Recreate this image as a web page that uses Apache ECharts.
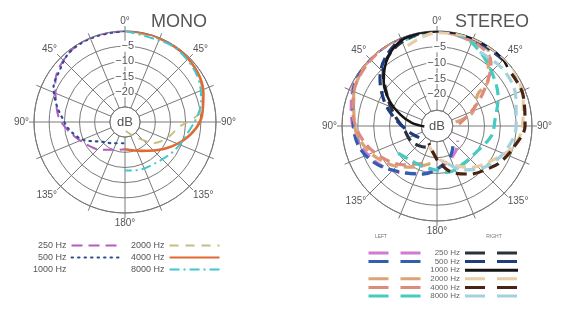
<!DOCTYPE html>
<html>
<head>
<meta charset="utf-8">
<script src="https://cdn.jsdelivr.net/npm/echarts@6/dist/echarts.min.js"></script>
<style>
html,body{margin:0;padding:0;background:#fff;}
#c{width:570px;height:317px;}
</style>
</head>
<body>
<div id="c"></div>
<script>
// ---------- MONO data (angle in degrees clockwise from front, level in dB) ----------
const monoAng250  = [0, 340, 322, 300, 285, 272, 255, 235, 222, 195, 180];
const monoDb250   = [0, 0, -0.6, -3.5, -6.5, -8.5, -12.5, -16, -17.7, -20.5, -21];
const monoAng500  = [0, 340, 322, 306, 296, 285, 275, 262, 247, 232, 209, 180];
const monoDb500   = [0, -0.2, -0.6, -2.8, -3.8, -6.5, -9, -11.5, -15, -19.5, -22, -23];
const monoAng1000 = [];
const monoDb1000  = [];
const monoAng2000 = [0, 30, 60, 80, 88, 95, 110, 125, 145, 175];
const monoDb2000  = [0, -0.3, -1.5, -4, -8, -12, -15, -18, -24, -27];
const monoAng4000 = [0, 20, 45, 70, 85, 95, 108, 125, 150, 180];
const monoDb4000  = [0, 0, -0.5, -2.5, -4.5, -6.5, -10, -14.5, -19, -21];
const monoAng8000 = [0, 30, 45, 60, 75, 85, 100, 118, 141, 168, 180];
const monoDb8000  = [0, -0.5, -1, -2, -4, -6, -9, -11, -13, -13.7, -14];

// ---------- STEREO data ----------
const stLAng250  = [20, 0, 330, 300, 280, 260, 240, 220, 200, 170, 145, 125];
const stLDb250   = [-1, 0, 0, -0.5, -2.5, -4.5, -7.5, -11, -14, -17.5, -20, -22];
const stLAng500  = [30, 15, 0, 348, 335, 321, 310, 291, 275, 256, 239, 221, 196, 160, 134];
const stLDb500   = [-1, -0.3, 0, 0, 0, 0, 0, -1.6, -3.4, -4.4, -7.2, -11, -14.2, -19, -22.8];
const stLAng2000 = [78, 70, 52, 48, 34, 21, 0, 345, 330, 315, 300, 290, 270, 250, 230, 210, 190];
const stLDb2000  = [-24, -18.2, -13.6, -8.2, -1.1, -1, 0, 0, 0, 0, -1, -2, -4, -7, -11, -15, -18];
const stLAng4000 = [85, 72, 62, 54, 46, 40, 30, 15, 0, 330, 300, 280, 260, 240, 220, 200];
const stLDb4000  = [-23, -20, -16, -12, -7, -3.5, -1.5, -0.5, 0, 0, -1, -3, -6, -10, -14, -17.5];
const stLAng8000 = [340, 0, 15, 28, 44, 65, 84, 100, 122, 145, 167, 180, 200, 219, 235];
const stLDb8000  = [-1, 0, -0.5, -2.5, -5.5, -8.7, -11.6, -12.5, -15, -15.5, -15, -16, -16.5, -16.3, -15];

const stRAng250  = [40, 20, 0, 335, 315, 300, 285, 265, 240, 215, 195];
const stRDb250   = [0, 0, 0, -1.5, -6, -12, -16, -19.5, -20.5, -22, -23];
const stRAng500  = [45, 20, 0, 340, 325, 310, 297, 285, 270, 250, 225];
const stRDb500   = [-0.5, 0, 0, -0.3, -2.5, -6.5, -11, -15, -19, -22, -24];
const stRAng1000 = [50, 40, 20, 0, 340, 325, 310, 298, 287, 277, 268];
const stRDb1000  = [-1, 0, 0, 0, -0.5, -3.2, -8, -13, -18, -22, -26];
const stRAng2000 = [340, 0, 20, 40, 55, 75, 90, 105, 122, 140, 160, 180, 200];
const stRDb2000  = [-3, -0.5, 0, 0, 0, -1.8, -3, -5, -9.5, -13, -17, -20, -23];
const stRAng4000 = [55, 70, 90, 104, 120, 131, 145, 159, 175, 191, 205];
const stRDb4000  = [-1.2, -1.1, -2.2, -4.6, -7, -9.2, -11.5, -14, -18, -22, -24];
const stRAng8000 = [30, 50, 70, 90, 110, 130, 150, 170];
const stRDb8000  = [-3, -2.5, -3.5, -5, -7, -10, -14, -19];

const freqLabels = ['250 Hz', '500 Hz', '1000 Hz', '2000 Hz', '4000 Hz', '8000 Hz'];
const ringTicks = [-5, -10, -15, -20];

// ---------- layout ----------
const R1 = 91, C1 = [125, 122];
const R2 = 95, C2 = [437, 126];
const GRID = '#7a7a7a', TXT = '#555';
const FONT = 'Liberation Sans, Arial, sans-serif';

function angleFmt(v) {
  if (v % 45 !== 0 || v >= 360) return '';
  return (v <= 180 ? v : 360 - v) + '°';
}
function gridAngle(i) {
  return {
    polarIndex: i, type: 'value', min: 0, max: 360, interval: 22.5,
    startAngle: 90, clockwise: true,
    axisLine: {show: true, lineStyle: {color: GRID, width: 1}},
    axisTick: {show: true, length: 5, lineStyle: {color: GRID, width: 1}},
    splitLine: {show: true, lineStyle: {color: GRID, width: 1}},
    axisLabel: {formatter: angleFmt, color: TXT, fontSize: 10, margin: 5, fontFamily: FONT}
  };
}
function dataAngle(i) {
  return {polarIndex: i, type: 'value', min: 0, max: 360, startAngle: 90, clockwise: true, show: false};
}
function gridRadius(i) {
  return {
    polarIndex: i, type: 'value', min: -25, max: 0, interval: 5,
    axisLine: {show: false}, axisTick: {show: false},
    splitLine: {show: true, lineStyle: {color: GRID, width: 1}},
    axisLabel: {
      formatter: v => ringTicks.indexOf(v) >= 0 ? '−' + (-v) : '',
      color: TXT, fontSize: 11, fontFamily: FONT, margin: -10,
      backgroundColor: '#fff', padding: [0, 1]
    }
  };
}
function dataRadius(i) {
  return {polarIndex: i, type: 'value', min: -30, max: 0, show: false};
}
function mk(name, polarIndex, ang, db, color, width, type, cap) {
  return {
    name, type: 'line', coordinateSystem: 'polar', polarIndex,
    data: ang.map((a, k) => [db[k], a]),
    symbol: 'none', showSymbol: false, smooth: 0.35, silent: true,
    lineStyle: {color, width, type, cap: cap || 'butt'},
    itemStyle: {color}
  };
}
const SD = [11, 6];
const series = [
  mk('250 Hz', 1, monoAng250, monoDb250, '#b45cc0', 2, [11, 6]),
  mk('500 Hz', 1, monoAng500, monoDb500, '#2d4f92', 2.2, [1.5, 5], 'round'),
  mk('1000 Hz', 1, monoAng1000, monoDb1000, 'rgba(0,0,0,0)', 2, 'solid'),
  mk('2000 Hz', 1, monoAng2000, monoDb2000, '#c8be84', 2, [9, 7]),
  mk('4000 Hz', 1, monoAng4000, monoDb4000, '#e06a32', 2.6, 'solid'),
  mk('8000 Hz', 1, monoAng8000, monoDb8000, '#43c6cf', 2, [10, 4, 2, 4]),

  mk('L 250 Hz', 3, stLAng250, stLDb250, '#d27ad2', 3.2, SD),
  mk('L 500 Hz', 3, stLAng500, stLDb500, '#2f5fae', 3.2, SD),
  mk('L 1000 Hz', 3, [], [], 'rgba(0,0,0,0)', 3, 'solid'),
  mk('L 2000 Hz', 3, stLAng2000, stLDb2000, '#dba474', 3.2, SD),
  mk('L 4000 Hz', 3, stLAng4000, stLDb4000, '#e08a7c', 3.2, SD),
  mk('L 8000 Hz', 3, stLAng8000, stLDb8000, '#44cbc2', 3.2, SD),

  mk('R 250 Hz', 3, stRAng250, stRDb250, '#2c303c', 3.2, SD),
  mk('R 500 Hz', 3, stRAng500, stRDb500, '#1f3c7c', 3.2, SD),
  mk('R 1000 Hz', 3, stRAng1000, stRDb1000, '#151515', 2.6, 'solid'),
  mk('R 2000 Hz', 3, stRAng2000, stRDb2000, '#e9cca8', 3.2, SD),
  mk('R 4000 Hz', 3, stRAng4000, stRDb4000, '#4a2412', 3.2, SD),
  mk('R 8000 Hz', 3, stRAng8000, stRDb8000, '#a4d2dc', 3.2, SD)
];

const legendText = {color: TXT, fontSize: 9, fontFamily: FONT};
const noSym = {opacity: 0};
const option = {
  animation: false,
  backgroundColor: '#fff',
  polar: [
    {center: C1, radius: [R1 / 6, R1]},
    {center: C1, radius: [0, R1]},
    {center: C2, radius: [R2 / 6, R2]},
    {center: C2, radius: [0, R2]}
  ],
  angleAxis: [gridAngle(0), dataAngle(1), gridAngle(2), dataAngle(3)],
  radiusAxis: [gridRadius(0), dataRadius(1), gridRadius(2), dataRadius(3)],
  title: [
    {text: 'MONO', left: 146, top: 8, textStyle: {color: TXT, fontSize: 18, fontWeight: 'normal', fontFamily: FONT}},
    {text: 'STEREO', left: 450, top: 8, textStyle: {color: TXT, fontSize: 18, fontWeight: 'normal', fontFamily: FONT}}
  ],
  graphic: [
    {type: 'text', x: C1[0], y: C1[1], style: {text: 'dB', fill: TXT, font: '13px ' + FONT, align: 'center', verticalAlign: 'middle'}},
    {type: 'text', x: C2[0], y: C2[1], style: {text: 'dB', fill: TXT, font: '13px ' + FONT, align: 'center', verticalAlign: 'middle'}},
    {type: 'text', x: 381, y: 237, style: {text: 'LEFT', fill: '#777', font: '5px ' + FONT, align: 'center', verticalAlign: 'middle'}},
    {type: 'text', x: 494, y: 237, style: {text: 'RIGHT', fill: '#777', font: '5px ' + FONT, align: 'center', verticalAlign: 'middle'}}
  ],
  legend: [
    {data: freqLabels.slice(0, 3), orient: 'vertical', align: 'right', left: 28, top: 236,
     itemWidth: 48, itemHeight: 8, itemGap: 3, itemStyle: noSym,
     textStyle: Object.assign({width: 34, align: 'right'}, legendText), selectedMode: false},
    {data: freqLabels.slice(3), orient: 'vertical', align: 'right', left: 126, top: 236,
     itemWidth: 50, itemHeight: 8, itemGap: 3, itemStyle: noSym,
     textStyle: legendText, selectedMode: false},
    {data: freqLabels.map(f => 'L ' + f), orient: 'vertical', left: 362, top: 244,
     itemWidth: 52, itemHeight: 8, itemGap: 0.6, formatter: () => ' ', itemStyle: noSym,
     lineStyle: {type: [20, 12], width: 3},
     textStyle: {fontSize: 8, lineHeight: 8, fontFamily: FONT}, selectedMode: false, height: 80},
    {data: freqLabels.map(f => ({name: 'R ' + f, lineStyle: f === '1000 Hz' ? {type: 'solid'} : {type: [20, 12]}})),
     orient: 'vertical', align: 'right', left: 418, top: 244, height: 80,
     itemWidth: 53, itemHeight: 8, itemGap: 0.6, itemStyle: noSym,
     lineStyle: {width: 3},
     formatter: n => n.slice(2),
     textStyle: {color: '#666', fontSize: 8, lineHeight: 8, fontFamily: FONT, width: 37, align: 'right'},
     selectedMode: false}
  ],
  series
};

const chart = echarts.init(document.getElementById('c'), null, {renderer: 'canvas'});
chart.setOption(option);
</script>
</body>
</html>
